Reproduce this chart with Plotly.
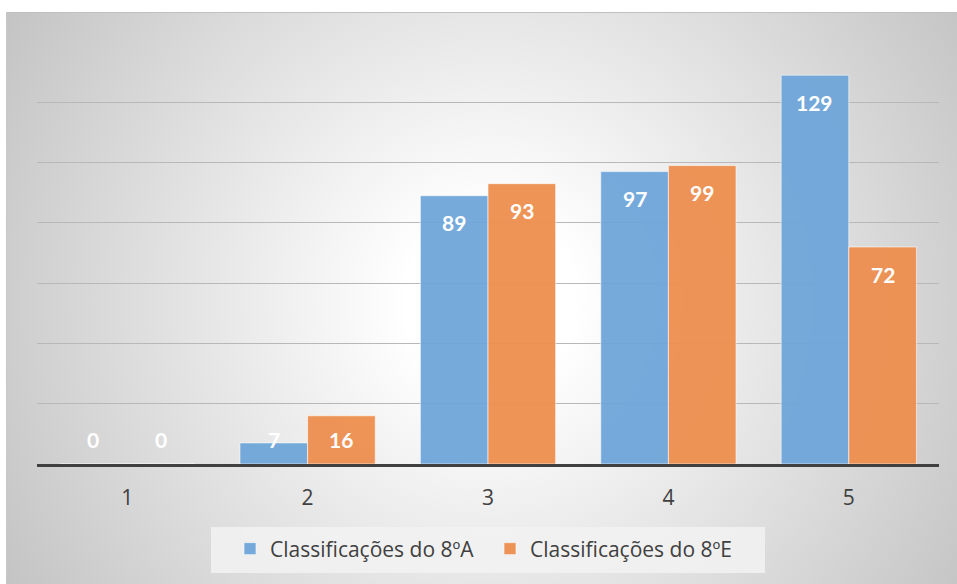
import base64
import plotly.graph_objects as go

categories = ["1", "2", "3", "4", "5"]
series_a_name = "Classificações do 8ºA"
series_e_name = "Classificações do 8ºE"
values_a = [0, 7, 89, 97, 129]
values_e = [0, 16, 93, 99, 72]

blue = "rgb(111,166,218)"
orange = "rgb(238,143,79)"

W, H = 957, 584
ml, mr, mt, mb = 37, 18, 42, 120
pw, ph = W - ml - mr, H - mt - mb

# radial gradient background as an SVG image
bx0, by0, bw, bh = 6, 12, W - 6, H - 12
svg = (
    f'<svg xmlns="http://www.w3.org/2000/svg" width="{bw}" height="{bh}" viewBox="0 0 {bw} {bh}">'
    f'<defs><radialGradient id="g" gradientUnits="userSpaceOnUse" cx="{490-bx0}" cy="{300-by0}" r="560">'
    '<stop offset="0" stop-color="#ffffff"/><stop offset="0.15" stop-color="#ffffff"/>'
    '<stop offset="1" stop-color="#c4c4c4"/></radialGradient></defs>'
    f'<rect x="0" y="0" width="{bw}" height="{bh}" fill="url(#g)"/>'
    f'<line x1="0" y1="0.5" x2="{bw}" y2="0.5" stroke="#c0c0c0" stroke-width="1"/>'
    f'<line x1="0.5" y1="0" x2="0.5" y2="{bh}" stroke="#c8c8c8" stroke-width="1"/>'
    '</svg>'
)
src = "data:image/svg+xml;base64," + base64.b64encode(svg.encode()).decode()

fig = go.Figure()
fig.add_trace(go.Bar(x=categories, y=values_a, name=series_a_name,
                     marker=dict(color=blue, line=dict(color="rgba(255,255,255,0.6)", width=1)),
                     opacity=0.95))
fig.add_trace(go.Bar(x=categories, y=values_e, name=series_e_name,
                     marker=dict(color=orange, line=dict(color="rgba(255,255,255,0.6)", width=1)),
                     opacity=0.95))

bar_half = 0.1875
for i, (va, ve) in enumerate(zip(values_a, values_e)):
    for v, off in ((va, -bar_half), (ve, bar_half)):
        fig.add_annotation(x=i + off, y=max(v - 9, 8), text=str(v), showarrow=False,
                           xref="x", yref="y", yanchor="middle",
                           font=dict(family="Lato", size=21, color="white", weight="bold"))

fig.add_layout_image(dict(source=src, xref="paper", yref="paper",
                          x=(bx0 - ml) / pw, y=1 + (mt - by0) / ph,
                          sizex=bw / pw, sizey=bh / ph, sizing="stretch",
                          xanchor="left", yanchor="top", layer="below"))

# legend background box
fig.add_shape(type="rect", xref="paper", yref="paper",
              x0=(211 - ml) / pw, x1=(765 - ml) / pw,
              y0=-(573 - mt - ph) / ph, y1=-(527 - mt - ph) / ph,
              fillcolor="rgba(242,242,242,0.85)", line=dict(width=0), layer="below")

fig.update_layout(
    width=W, height=H,
    margin=dict(l=ml, r=mr, t=mt, b=mb),
    paper_bgcolor="white", plot_bgcolor="rgba(0,0,0,0)",
    barmode="group", bargap=0.25, bargroupgap=0,
    showlegend=True,
    legend=dict(orientation="h", x=(230 - ml) / pw, xanchor="left",
                y=-(549 - mt - ph) / ph, yanchor="middle",
                bgcolor="rgba(0,0,0,0)", font=dict(family="Open Sans", size=21, color="#404040"),
                entrywidth=215, itemwidth=30, traceorder="normal"),
    xaxis=dict(showline=True, linecolor="#404040", linewidth=3, ticks="", showgrid=False,
               tickfont=dict(family="Open Sans", size=21, color="#404040"), ticklabelstandoff=13),
    yaxis=dict(range=[0, 140], dtick=20, showticklabels=False, showgrid=True,
               gridcolor="#b8b8b8", gridwidth=1, zeroline=False),
)

fig.write_html("out.html", config={"displayModeBar": False},
               post_script="document.body.style.margin='0px';")
